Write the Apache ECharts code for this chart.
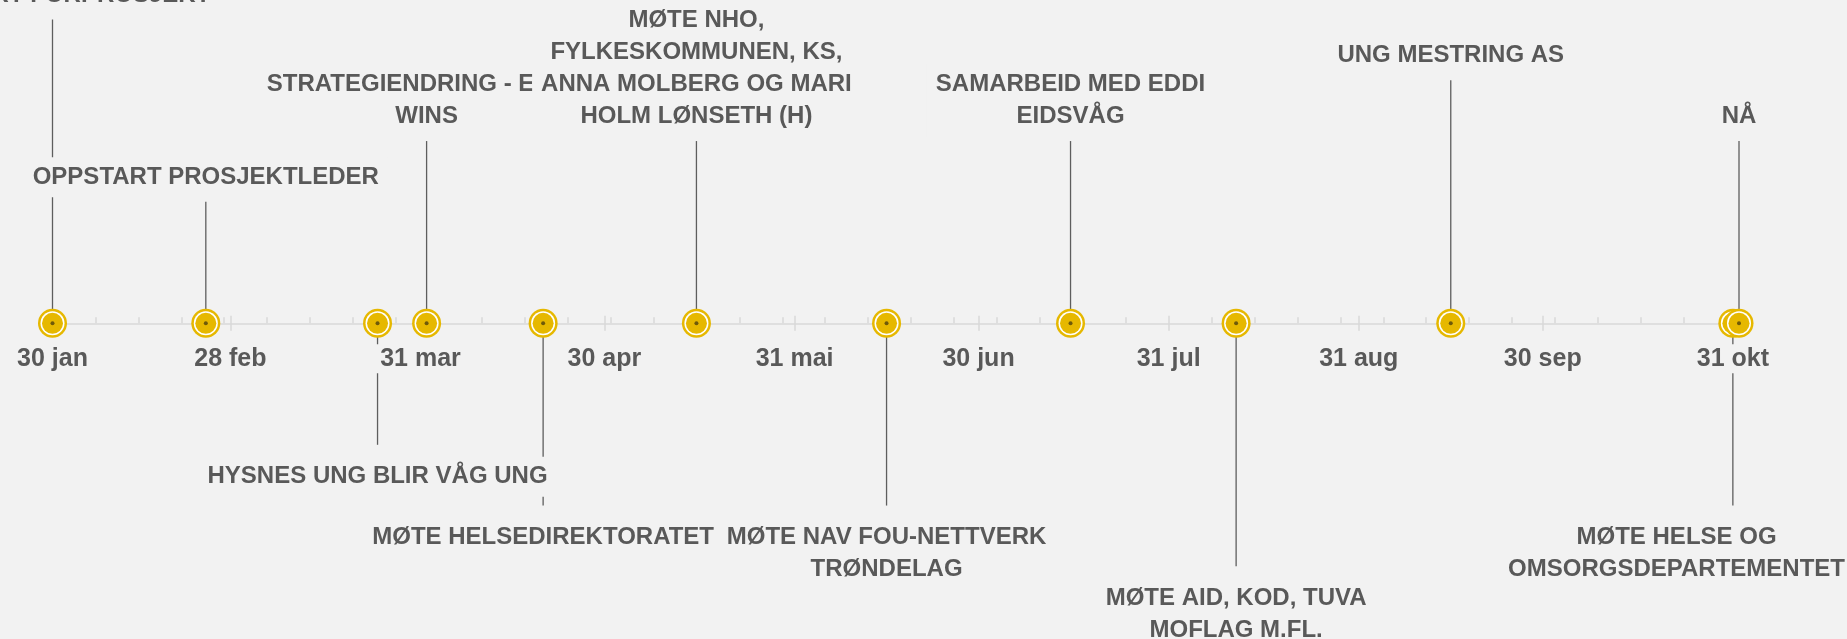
<!DOCTYPE html>
<html>
<head>
<meta charset="utf-8">
<style>
  html, body { margin: 0; padding: 0; background: #f2f2f2; }
  #main { width: 1847px; height: 639px; }
</style>
<script src="https://cdn.jsdelivr.net/npm/echarts@6/dist/echarts.min.js"></script>
</head>
<body>
<div id="main"></div>
<script>
// timeline data
var startDate = '2018-01-30';
var endDate = '2018-11-01';

var eventDates = ['2018-01-30', '2018-02-24', '2018-03-24', '2018-04-01', '2018-04-20', '2018-05-15',
                  '2018-06-15', '2018-07-15', '2018-08-11', '2018-09-15', '2018-10-31', '2018-11-01'];
var eventHeights = [125, 50, -50, 75, -75, 75, -75, 75, -100, 100, -75, 75];
var eventLabels = [
  'OPPSTART FORPROSJEKT',
  'OPPSTART PROSJEKTLEDER',
  'HYSNES UNG BLIR VÅG UNG',
  'STRATEGIENDRING - EGEN\nWINS',
  'MØTE HELSEDIREKTORATET',
  'MØTE NHO,\nFYLKESKOMMUNEN, KS,\nANNA MOLBERG OG MARI\nHOLM LØNSETH (H)',
  'MØTE NAV FOU-NETTVERK\nTRØNDELAG',
  'SAMARBEID MED EDDI\nEIDSVÅG',
  'MØTE AID, KOD, TUVA\nMOFLAG M.FL.',
  'UNG MESTRING AS',
  'MØTE HELSE OG\nOMSORGSDEPARTEMENTET',
  'NÅ'
];

var monthEnds = ['2018-01-30', '2018-02-28', '2018-03-31', '2018-04-30', '2018-05-31',
                 '2018-06-30', '2018-07-31', '2018-08-31', '2018-09-30', '2018-10-31'];
var monthLabels = ['30 jan', '28 feb', '31 mar', '30 apr', '31 mai',
                   '30 jun', '31 jul', '31 aug', '30 sep', '31 okt'];

function dayNo(s) {
  var p = s.split('-'), q = startDate.split('-');
  return (Date.UTC(+p[0], p[1] - 1, +p[2]) - Date.UTC(+q[0], q[1] - 1, +q[2])) / 864e5;
}

var maxDay = dayNo(endDate);
var monthDays = monthEnds.map(dayNo);
var points = eventDates.map(function (d, i) { return [dayNo(d), eventHeights[i]]; });

var gold = '#e6b800';
var textGray = '#595959';
var axisGray = '#d9d9d9';
var bg = '#f2f2f2';
var W = 1847;

var chart = echarts.init(document.getElementById('main'));

function xAxisBase(extra) {
  var a = {
    type: 'value', min: 0, max: maxDay, position: 'bottom',
    splitLine: { show: false },
    axisLine: { show: false, onZero: false },
    axisTick: { show: false },
    axisLabel: { show: false }
  };
  for (var k in extra) a[k] = extra[k];
  return a;
}

var option = {
  backgroundColor: bg,
  animation: false,
  grid: { left: 52.5, right: 108, top: 7.4, bottom: 315.7, outerBoundsMode: 'none', containLabel: false },
  xAxis: [
    // axis line + weekly minor ticks
    xAxisBase({
      interval: 7,
      axisLine: { show: true, onZero: false, lineStyle: { color: axisGray, width: 1.5 } },
      axisTick: { show: true, inside: true, length: 6, lineStyle: { color: axisGray, width: 1.5 } }
    }),
    // month ticks above
    xAxisBase({
      axisTick: { show: true, inside: true, length: 7.5, customValues: monthDays, lineStyle: { color: axisGray, width: 1.5 } }
    }),
    // month ticks below
    xAxisBase({
      axisTick: { show: true, inside: false, length: 7.5, customValues: monthDays, lineStyle: { color: axisGray, width: 1.5 } }
    }),
    // month labels (on top of connector lines)
    xAxisBase({
      z: 10,
      axisLabel: {
        show: true,
        customValues: monthDays,
        formatter: function (v) { return monthLabels[monthDays.indexOf(v)]; },
        margin: 21,
        fontFamily: 'Liberation Sans',
        fontWeight: 'bold',
        fontSize: 25,
        color: textGray,
        backgroundColor: bg,
        padding: [2, 5]
      }
    })
  ],
  yAxis: { type: 'value', min: 0, max: 130, show: false },
  series: [
    {
      // connector lines
      type: 'custom',
      z: 2,
      clip: false,
      silent: true,
      data: points,
      renderItem: function (params, api) {
        var a = api.coord([api.value(0), 0]);
        var b = api.coord([api.value(0), api.value(1)]);
        return {
          type: 'line',
          shape: { x1: a[0], y1: a[1], x2: b[0], y2: b[1] },
          style: { stroke: '#5e5e5e', lineWidth: 1.3 }
        };
      }
    },
    {
      // markers on the axis
      type: 'custom',
      z: 3,
      clip: false,
      silent: true,
      data: points,
      renderItem: function (params, api) {
        var c = api.coord([api.value(0), 0]);
        return {
          type: 'group',
          children: [
            { type: 'circle', shape: { cx: c[0], cy: c[1], r: 14.5 }, style: { fill: gold } },
            { type: 'circle', shape: { cx: c[0], cy: c[1], r: 12 }, style: { fill: '#ffffff' } },
            { type: 'circle', shape: { cx: c[0], cy: c[1], r: 10.5 }, style: { fill: gold } },
            { type: 'circle', shape: { cx: c[0], cy: c[1], r: 2 }, style: { fill: '#6e5a0a' } }
          ]
        };
      }
    },
    {
      // event labels
      type: 'scatter',
      z: 4,
      clip: false,
      silent: true,
      symbolSize: 0,
      itemStyle: { opacity: 1 },
      data: points.map(function (p, i) {
        return {
          value: p,
          name: eventLabels[i],
          label: { position: p[1] > 0 ? 'top' : 'bottom', distance: p[1] > 0 ? 4.5 : 12 }
        };
      }),
      label: {
        show: true,
        opacity: 1,
        formatter: '{b}',
        fontFamily: 'Liberation Sans',
        fontWeight: 'bold',
        fontSize: 24,
        lineHeight: 32,
        color: textGray,
        align: 'center',
        backgroundColor: bg,
        padding: [4, 9]
      },
      labelLayout: function (p) {
        var r = p.labelRect;
        var over = r.x + r.width - (W + 7);
        return over > 0 ? { dx: -over } : {};
      }
    }
  ]
};

chart.setOption(option);
</script>
</body>
</html>
